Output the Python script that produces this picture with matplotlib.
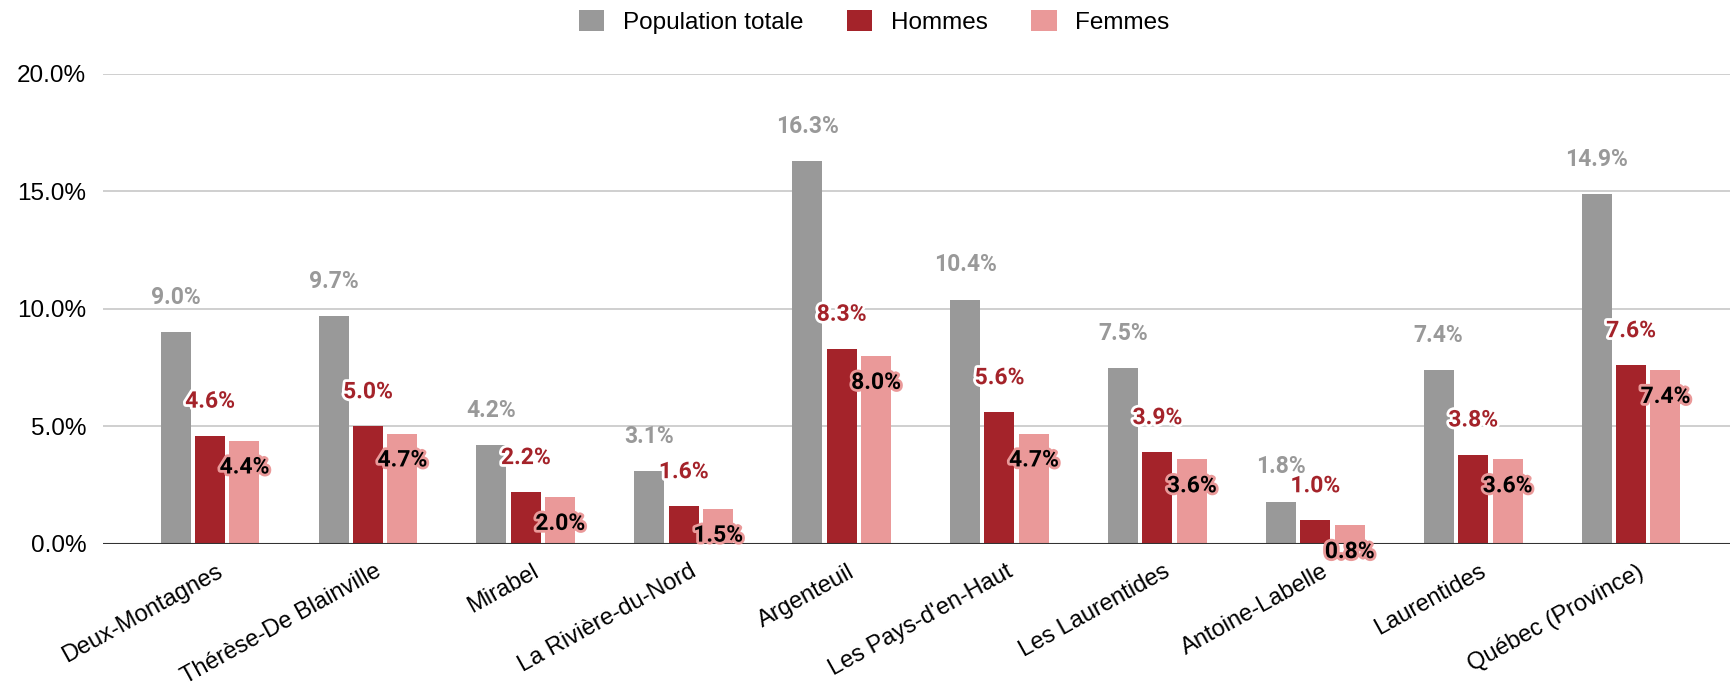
import matplotlib
matplotlib.use("Agg")
import matplotlib.pyplot as plt
import matplotlib.patheffects as pe
import matplotlib.transforms as mtransforms
import numpy as np
from matplotlib.ticker import FuncFormatter

# données
regions = ["Deux-Montagnes", "Thérèse-De Blainville", "Mirabel", "La Rivière-du-Nord",
           "Argenteuil", "Les Pays-d'en-Haut", "Les Laurentides", "Antoine-Labelle",
           "Laurentides", "Québec (Province)"]
pop_totale = [9.0, 9.7, 4.2, 3.1, 16.3, 10.4, 7.5, 1.8, 7.4, 14.9]
hommes = [4.6, 5.0, 2.2, 1.6, 8.3, 5.6, 3.9, 1.0, 3.8, 7.6]
femmes = [4.4, 4.7, 2.0, 1.5, 8.0, 4.7, 3.6, 0.8, 3.6, 7.4]

c_gris = "#999999"
c_rouge = "#a4232a"
c_rose = "#ea9999"

plt.rcParams["font.family"] = ["Liberation Sans", "DejaVu Sans"]

fig = plt.figure(figsize=(17.31, 6.9), dpi=100)
ax = fig.add_axes([0.0595, 0.2116, 0.9405, 0.6812])

x = np.arange(len(regions))
w = 0.19
step = 0.218

b1 = ax.bar(x - step, pop_totale, w, color=c_gris, label="Population totale", zorder=3)
b2 = ax.bar(x, hommes, w, color=c_rouge, label="Hommes", zorder=3)
b3 = ax.bar(x + step, femmes, w, color=c_rose, label="Femmes", zorder=3)

# étiquettes de valeurs
lbl = dict(fontsize=16.5, fontweight="bold", family="Roboto", ha="center", va="center", zorder=5)
for xi, v in zip(x, pop_totale):
    ax.annotate(f"{v:.1f}%", (xi - step, v), xytext=(0, 25), textcoords="offset points",
                color=c_gris, **lbl)
for xi, v in zip(x, hommes):
    ax.annotate(f"{v:.1f}%", (xi, v), xytext=(0, 25), textcoords="offset points",
                color=c_rouge, path_effects=[pe.withStroke(linewidth=4, foreground="white")], **lbl)
for xi, v in zip(x, femmes):
    ax.annotate(f"{v:.1f}%", (xi + step, v), xytext=(0, -19), textcoords="offset points",
                color="black", path_effects=[pe.withStroke(linewidth=4, foreground=c_rose)], **lbl)

ax.set_ylim(0, 20)
ax.set_xlim(-0.678, 9.633)
ax.set_yticks([0, 5, 10, 15, 20])
ax.yaxis.set_major_formatter(FuncFormatter(lambda v, p: f"{v:.1f}%"))
ax.grid(axis="y", color="#cccccc", linewidth=1.3, zorder=0)
ax.axhline(0, color="#333333", linewidth=1.5, zorder=4)
for s in ax.spines.values():
    s.set_visible(False)
ax.tick_params(axis="y", length=0, labelsize=17.5, pad=12)
ax.tick_params(axis="x", length=0, labelsize=17, pad=12)
ax.set_xticks(x)
ax.set_xticklabels(regions, rotation=29, ha="right", rotation_mode="anchor")
decal = mtransforms.ScaledTranslation(6 / 100, 0, fig.dpi_scale_trans)
for t in ax.get_xticklabels():
    t.set_transform(t.get_transform() + decal)

fig.legend(handles=[b1, b2, b3], loc="center", bbox_to_anchor=(0.505, 0.968), ncol=3,
           frameon=False, fontsize=17.5, handlelength=1.05, handleheight=0.97,
           handletextpad=0.75, columnspacing=1.8)

fig.savefig("out.png", dpi=100)
